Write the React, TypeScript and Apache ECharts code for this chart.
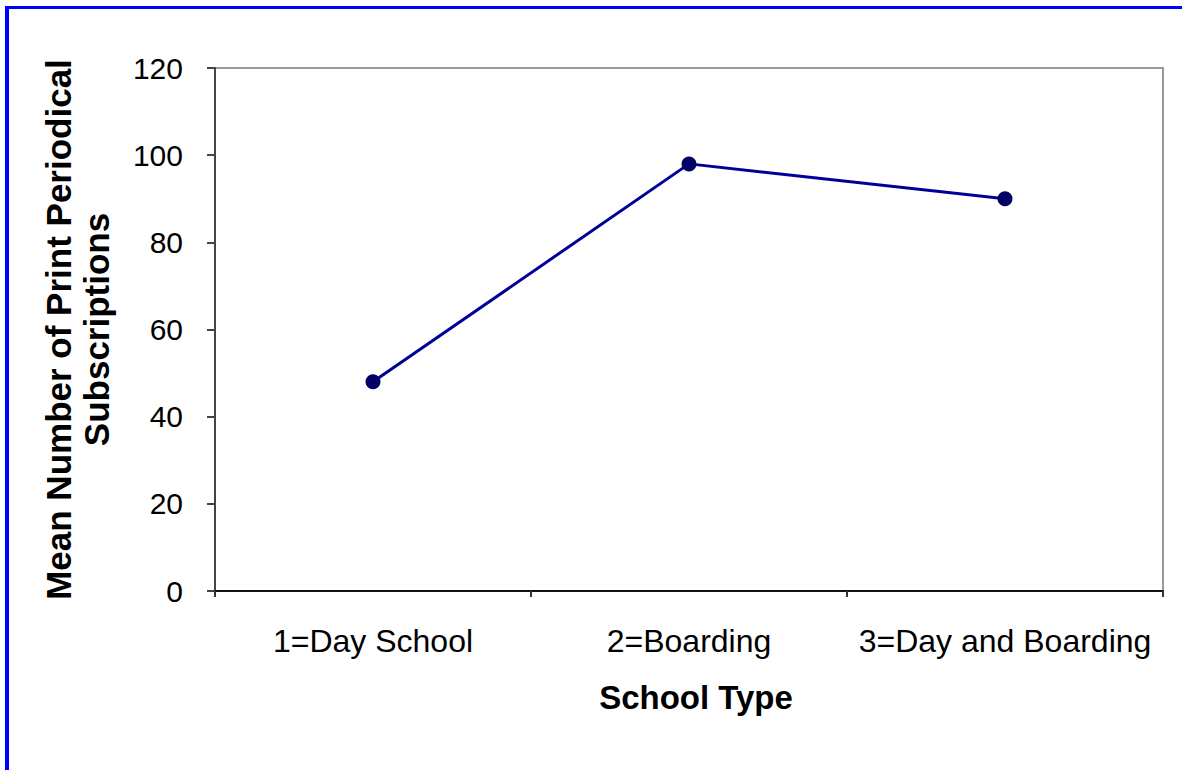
import React, { useEffect, useRef } from "react";
import * as echarts from "echarts";

const categories = ["1=Day School", "2=Boarding", "3=Day and Boarding"];
const meanSubscriptions = [48, 98, 90];
const yTicks = { min: 0, max: 120, interval: 20 };
const xTitle = "School Type";
const yTitle = "Mean Number of Print Periodical\nSubscriptions";

export default function App() {
  const ref = useRef<HTMLDivElement>(null);
  useEffect(() => {
    if (!ref.current) return;
    const chart = echarts.init(ref.current, null, { renderer: "svg" });
    const font = "'Liberation Sans', Arial, sans-serif";
    chart.setOption({
      animation: false,
      backgroundColor: "#ffffff",
      grid: {
        left: 215,
        top: 68,
        right: 19,
        bottom: 179,
        show: true,
        borderColor: "#9a9a9a",
        borderWidth: 2,
        containLabel: false,
      },
      xAxis: {
        type: "category",
        data: categories,
        boundaryGap: true,
        axisLine: { show: true, lineStyle: { color: "#111", width: 2 } },
        axisTick: { show: true, interval: 0, length: 6, alignWithLabel: false, lineStyle: { color: "#333", width: 2 } },
        axisLabel: { color: "#000", fontSize: 32, fontFamily: font, margin: 34, interval: 0 },
        splitLine: { show: false },
        name: xTitle,
        nameLocation: "middle",
        nameGap: 90,
        nameTextStyle: { color: "#000", fontSize: 33, fontWeight: "bold", fontFamily: font, padding: [0, 0, 0, 14] },
      },
      yAxis: {
        type: "value",
        min: yTicks.min,
        max: yTicks.max,
        interval: yTicks.interval,
        axisLine: { show: true, lineStyle: { color: "#444", width: 2 } },
        axisTick: { show: true, length: 8, lineStyle: { color: "#444", width: 2 } },
        axisLabel: { color: "#000", fontSize: 30, fontFamily: font, margin: 32 },
        splitLine: { show: false },
        name: yTitle,
        nameLocation: "middle",
        nameRotate: 90,
        nameGap: 100,
        nameTextStyle: {
          color: "#000",
          fontSize: 35,
          fontWeight: "bold",
          fontFamily: font,
          lineHeight: 38,
          align: "center",
        },
      },
      graphic: [
        { type: "line", shape: { x1: 5, y1: 7.5, x2: 1182, y2: 7.5 }, style: { stroke: "#0000ff", lineWidth: 3 } },
        { type: "line", shape: { x1: 7, y1: 6, x2: 7, y2: 770 }, style: { stroke: "#0000ff", lineWidth: 4 } },
      ],
      series: [
        {
          type: "line",
          data: meanSubscriptions,
          symbol: "circle",
          symbolSize: 15,
          lineStyle: { color: "#000099", width: 3 },
          itemStyle: { color: "#000066" },
        },
      ],
    });
    return () => chart.dispose();
  }, []);
  return (
    <div
      ref={ref}
      style={{ position: "fixed", left: 0, top: 0, width: 1182, height: 770 }}
    />
  );
}
